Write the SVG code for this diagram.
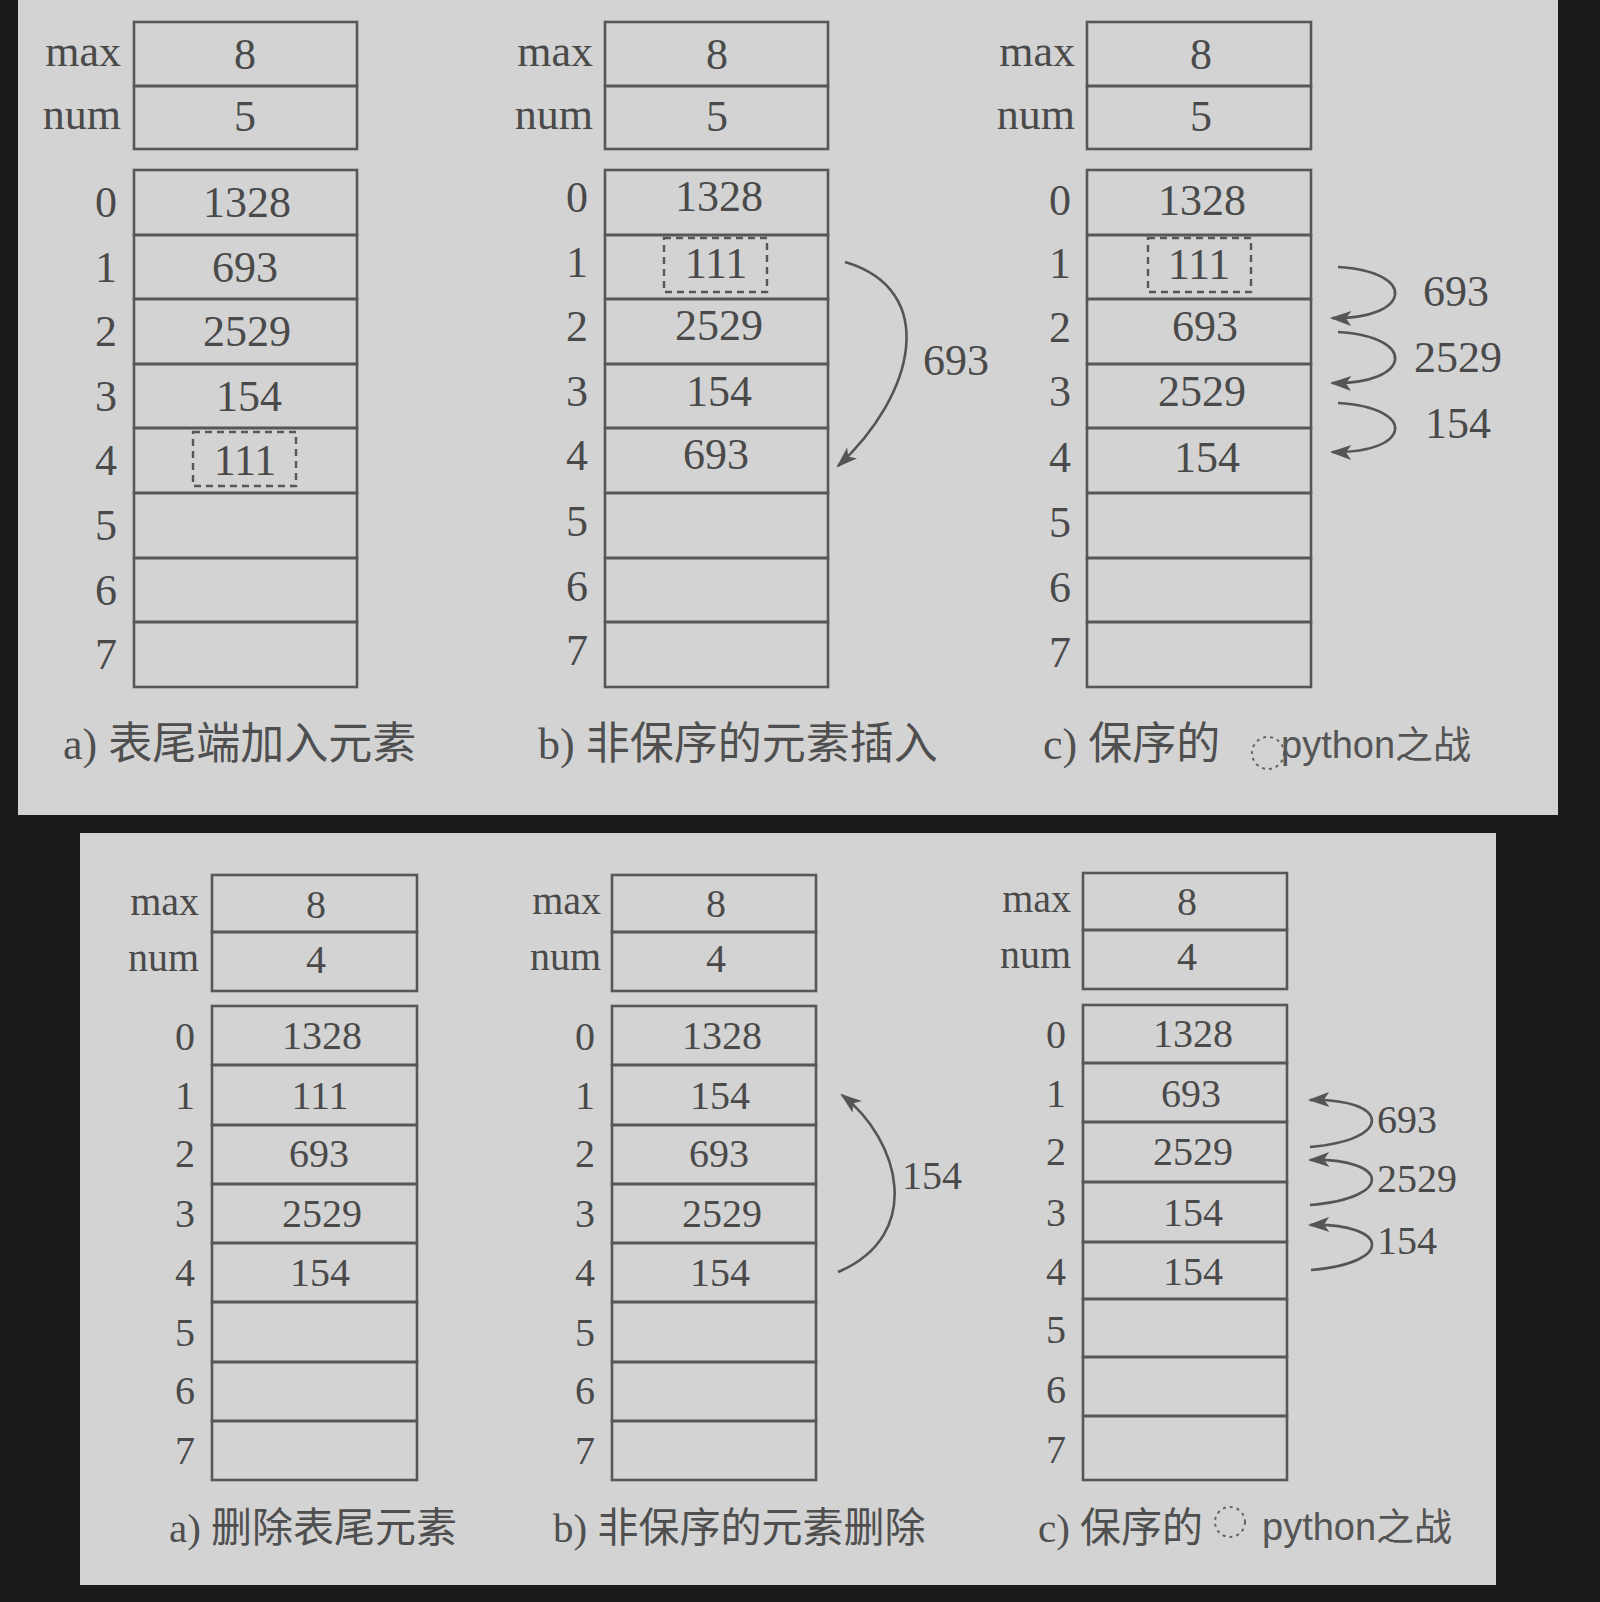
<svg xmlns="http://www.w3.org/2000/svg" width="1600" height="1602" viewBox="0 0 1600 1602">
<style>
.bg{fill:#1b1b1b}
.panel{fill:#d3d3d3}
.cell{fill:none;stroke:#575757;stroke-width:2.6}
.dash{fill:none;stroke:#575757;stroke-width:2.4;stroke-dasharray:7 5}
.v{font-family:"Liberation Serif","Noto Sans CJK SC",serif;font-size:44px;fill:#4a4a4a;text-anchor:middle}
.vs{font-family:"Liberation Serif","Noto Sans CJK SC",serif;font-size:40px;fill:#4a4a4a;text-anchor:middle}
.r{text-anchor:end}
.cap{font-family:"Liberation Serif","Noto Sans CJK SC",serif;font-size:44px;fill:#4f4f4f}
.caps{font-family:"Liberation Serif","Noto Sans CJK SC",serif;font-size:41px;fill:#4f4f4f}
.wm{font-family:"Liberation Sans","Noto Sans CJK SC",sans-serif;font-size:38px;fill:#555}
.arr{fill:none;stroke:#555;stroke-width:2.6;marker-end:url(#ah)}
</style>
<defs>
<marker id="ah" viewBox="0 0 20 14" refX="18" refY="7" markerWidth="22" markerHeight="15" orient="auto" markerUnits="userSpaceOnUse">
<path d="M0,0 L20,7 L0,14 L5,7 Z" fill="#555"/>
</marker>
</defs>
<rect class="bg" x="0" y="0" width="1600" height="1602"/>
<rect class="panel" x="18" y="0" width="1540" height="815"/>
<rect class="panel" x="80" y="833" width="1416" height="752"/>

<!-- TOP A -->
<g id="top-a">
<g id="top-a-header">
<rect class="cell" x="134" y="22" width="223" height="64"/>
<rect class="cell" x="134" y="86" width="223" height="63"/>
<text class="v r" x="121" y="66">max</text><text class="v r" x="121" y="129">num</text>
<text class="v" x="245" y="69">8</text><text class="v" x="245" y="131">5</text>
</g>
<g id="top-a-array">
<rect class="cell" x="134" y="170" width="223" height="65"/>
<rect class="cell" x="134" y="235" width="223" height="64"/>
<rect class="cell" x="134" y="299" width="223" height="65"/>
<rect class="cell" x="134" y="364" width="223" height="64"/>
<rect class="cell" x="134" y="428" width="223" height="65"/>
<rect class="cell" x="134" y="493" width="223" height="65"/>
<rect class="cell" x="134" y="558" width="223" height="64"/>
<rect class="cell" x="134" y="622" width="223" height="65"/>
<rect class="dash" x="193" y="432" width="103" height="54"/>
<text class="v" x="106" y="217">0</text><text class="v" x="106" y="282">1</text><text class="v" x="106" y="346">2</text><text class="v" x="106" y="411">3</text><text class="v" x="106" y="475">4</text><text class="v" x="106" y="540">5</text><text class="v" x="106" y="605">6</text><text class="v" x="106" y="669">7</text>
<text class="v" x="247" y="217">1328</text><text class="v" x="245" y="282">693</text><text class="v" x="247" y="346">2529</text><text class="v" x="249" y="411">154</text><text class="v" x="245" y="475">111</text>
</g>
<text class="cap" x="63" y="759">a) 表尾端加入元素</text>
</g>

<!-- TOP B -->
<g id="top-b">
<g id="top-b-header">
<rect class="cell" x="605" y="22" width="223" height="64"/>
<rect class="cell" x="605" y="86" width="223" height="63"/>
<text class="v r" x="593" y="66">max</text><text class="v r" x="593" y="129">num</text>
<text class="v" x="717" y="69">8</text><text class="v" x="717" y="131">5</text>
</g>
<g id="top-b-array">
<rect class="cell" x="605" y="170" width="223" height="65"/>
<rect class="cell" x="605" y="235" width="223" height="64"/>
<rect class="cell" x="605" y="299" width="223" height="65"/>
<rect class="cell" x="605" y="364" width="223" height="64"/>
<rect class="cell" x="605" y="428" width="223" height="65"/>
<rect class="cell" x="605" y="493" width="223" height="65"/>
<rect class="cell" x="605" y="558" width="223" height="64"/>
<rect class="cell" x="605" y="622" width="223" height="65"/>
<rect class="dash" x="664" y="238" width="103" height="54"/>
<text class="v" x="577" y="212">0</text><text class="v" x="577" y="277">1</text><text class="v" x="577" y="341">2</text><text class="v" x="577" y="406">3</text><text class="v" x="577" y="470">4</text><text class="v" x="577" y="536">5</text><text class="v" x="577" y="601">6</text><text class="v" x="577" y="665">7</text>
<text class="v" x="719" y="211">1328</text><text class="v" x="716" y="278">111</text><text class="v" x="719" y="340">2529</text><text class="v" x="719" y="406">154</text><text class="v" x="716" y="469">693</text>
</g>
<text class="cap" x="538" y="759">b) 非保序的元素插入</text>
</g>

<!-- TOP C -->
<g id="top-c">
<g id="top-c-header">
<rect class="cell" x="1087" y="22" width="224" height="64"/>
<rect class="cell" x="1087" y="86" width="224" height="63"/>
<text class="v r" x="1075" y="66">max</text><text class="v r" x="1075" y="129">num</text>
<text class="v" x="1201" y="69">8</text><text class="v" x="1201" y="131">5</text>
</g>
<g id="top-c-array">
<rect class="cell" x="1087" y="170" width="224" height="65"/>
<rect class="cell" x="1087" y="235" width="224" height="64"/>
<rect class="cell" x="1087" y="299" width="224" height="65"/>
<rect class="cell" x="1087" y="364" width="224" height="64"/>
<rect class="cell" x="1087" y="428" width="224" height="65"/>
<rect class="cell" x="1087" y="493" width="224" height="65"/>
<rect class="cell" x="1087" y="558" width="224" height="64"/>
<rect class="cell" x="1087" y="622" width="224" height="65"/>
<rect class="dash" x="1148" y="238" width="103" height="54"/>
<text class="v" x="1060" y="215">0</text><text class="v" x="1060" y="278">1</text><text class="v" x="1060" y="342">2</text><text class="v" x="1060" y="406">3</text><text class="v" x="1060" y="472">4</text><text class="v" x="1060" y="537">5</text><text class="v" x="1060" y="602">6</text><text class="v" x="1060" y="667">7</text>
<text class="v" x="1202" y="215">1328</text><text class="v" x="1199" y="279">111</text><text class="v" x="1205" y="341">693</text><text class="v" x="1202" y="406">2529</text><text class="v" x="1207" y="472">154</text>
</g>
<text class="cap" x="1043" y="759">c) 保序的</text>
<circle cx="1268" cy="753" r="16" fill="none" stroke="#666" stroke-width="2" stroke-dasharray="3 4"/>
<text class="wm" x="1281" y="758">python之战</text>
</g>

<!-- BOTTOM A -->
<g id="bot-a">
<g id="bot-a-header">
<rect class="cell" x="212" y="875" width="205" height="57"/>
<rect class="cell" x="212" y="932" width="205" height="59"/>
<text class="vs r" x="199" y="915">max</text><text class="vs r" x="199" y="971">num</text>
<text class="vs" x="316" y="918">8</text><text class="vs" x="316" y="973">4</text>
</g>
<g id="bot-a-array">
<rect class="cell" x="212" y="1006" width="205" height="59"/>
<rect class="cell" x="212" y="1065" width="205" height="60"/>
<rect class="cell" x="212" y="1125" width="205" height="59"/>
<rect class="cell" x="212" y="1184" width="205" height="59"/>
<rect class="cell" x="212" y="1243" width="205" height="59"/>
<rect class="cell" x="212" y="1302" width="205" height="60"/>
<rect class="cell" x="212" y="1362" width="205" height="59"/>
<rect class="cell" x="212" y="1421" width="205" height="59"/>
<text class="vs" x="185" y="1050">0</text><text class="vs" x="185" y="1109">1</text><text class="vs" x="185" y="1167">2</text><text class="vs" x="185" y="1227">3</text><text class="vs" x="185" y="1286">4</text><text class="vs" x="185" y="1346">5</text><text class="vs" x="185" y="1404">6</text><text class="vs" x="185" y="1464">7</text>
<text class="vs" x="322" y="1049">1328</text><text class="vs" x="320" y="1109">111</text><text class="vs" x="319" y="1167">693</text><text class="vs" x="322" y="1227">2529</text><text class="vs" x="320" y="1286">154</text>
</g>
<text class="caps" x="169" y="1542">a) 删除表尾元素</text>
</g>

<!-- BOTTOM B -->
<g id="bot-b">
<g id="bot-b-header">
<rect class="cell" x="612" y="875" width="204" height="57"/>
<rect class="cell" x="612" y="932" width="204" height="59"/>
<text class="vs r" x="601" y="914">max</text><text class="vs r" x="601" y="970">num</text>
<text class="vs" x="716" y="917">8</text><text class="vs" x="716" y="972">4</text>
</g>
<g id="bot-b-array">
<rect class="cell" x="612" y="1006" width="204" height="59"/>
<rect class="cell" x="612" y="1065" width="204" height="60"/>
<rect class="cell" x="612" y="1125" width="204" height="59"/>
<rect class="cell" x="612" y="1184" width="204" height="59"/>
<rect class="cell" x="612" y="1243" width="204" height="59"/>
<rect class="cell" x="612" y="1302" width="204" height="60"/>
<rect class="cell" x="612" y="1362" width="204" height="59"/>
<rect class="cell" x="612" y="1421" width="204" height="59"/>
<text class="vs" x="585" y="1050">0</text><text class="vs" x="585" y="1109">1</text><text class="vs" x="585" y="1167">2</text><text class="vs" x="585" y="1227">3</text><text class="vs" x="585" y="1286">4</text><text class="vs" x="585" y="1346">5</text><text class="vs" x="585" y="1404">6</text><text class="vs" x="585" y="1464">7</text>
<text class="vs" x="722" y="1049">1328</text><text class="vs" x="720" y="1109">154</text><text class="vs" x="719" y="1167">693</text><text class="vs" x="722" y="1227">2529</text><text class="vs" x="720" y="1286">154</text>
</g>
<text class="caps" x="553" y="1542">b) 非保序的元素删除</text>
</g>

<!-- BOTTOM C -->
<g id="bot-c">
<g id="bot-c-header">
<rect class="cell" x="1083" y="873" width="204" height="57"/>
<rect class="cell" x="1083" y="930" width="204" height="59"/>
<text class="vs r" x="1071" y="912">max</text><text class="vs r" x="1071" y="968">num</text>
<text class="vs" x="1187" y="915">8</text><text class="vs" x="1187" y="970">4</text>
</g>
<g id="bot-c-array">
<rect class="cell" x="1083" y="1005" width="204" height="58"/>
<rect class="cell" x="1083" y="1063" width="204" height="59"/>
<rect class="cell" x="1083" y="1122" width="204" height="60"/>
<rect class="cell" x="1083" y="1182" width="204" height="60"/>
<rect class="cell" x="1083" y="1242" width="204" height="57"/>
<rect class="cell" x="1083" y="1299" width="204" height="58"/>
<rect class="cell" x="1083" y="1357" width="204" height="59"/>
<rect class="cell" x="1083" y="1416" width="204" height="64"/>
<text class="vs" x="1056" y="1048">0</text><text class="vs" x="1056" y="1107">1</text><text class="vs" x="1056" y="1165">2</text><text class="vs" x="1056" y="1226">3</text><text class="vs" x="1056" y="1285">4</text><text class="vs" x="1056" y="1343">5</text><text class="vs" x="1056" y="1403">6</text><text class="vs" x="1056" y="1463">7</text>
<text class="vs" x="1193" y="1047">1328</text><text class="vs" x="1191" y="1107">693</text><text class="vs" x="1193" y="1165">2529</text><text class="vs" x="1193" y="1226">154</text><text class="vs" x="1193" y="1285">154</text>
</g>
<text class="caps" x="1038" y="1542">c) 保序的</text>
<circle cx="1230" cy="1522" r="15" fill="none" stroke="#666" stroke-width="2" stroke-dasharray="3 4"/>
<text class="wm" x="1262" y="1540">python之战</text>
</g>

<g id="connectors">
<path class="arr" d="M845,262 C940,290 915,395 838,466"/>
<text class="v" x="956" y="375">693</text>
<path class="arr" d="M1338,267 C1420,272 1410,320 1332,318"/>
<path class="arr" d="M1338,332 C1420,337 1410,385 1332,383"/>
<path class="arr" d="M1338,403 C1420,408 1410,454 1332,452"/>
<text class="v" x="1456" y="306">693</text>
<text class="v" x="1458" y="372">2529</text>
<text class="v" x="1458" y="438">154</text>
<path class="arr" d="M838,1272 C925,1235 900,1140 842,1095"/>
<text class="vs" x="932" y="1189">154</text>
<path class="arr" d="M1310,1147 C1395,1140 1390,1098 1310,1100"/>
<path class="arr" d="M1310,1205 C1395,1198 1390,1158 1310,1160"/>
<path class="arr" d="M1311,1270 C1395,1263 1390,1223 1310,1225"/>
<text class="vs" x="1407" y="1133">693</text>
<text class="vs" x="1417" y="1192">2529</text>
<text class="vs" x="1407" y="1254">154</text>
</g>
</svg>
